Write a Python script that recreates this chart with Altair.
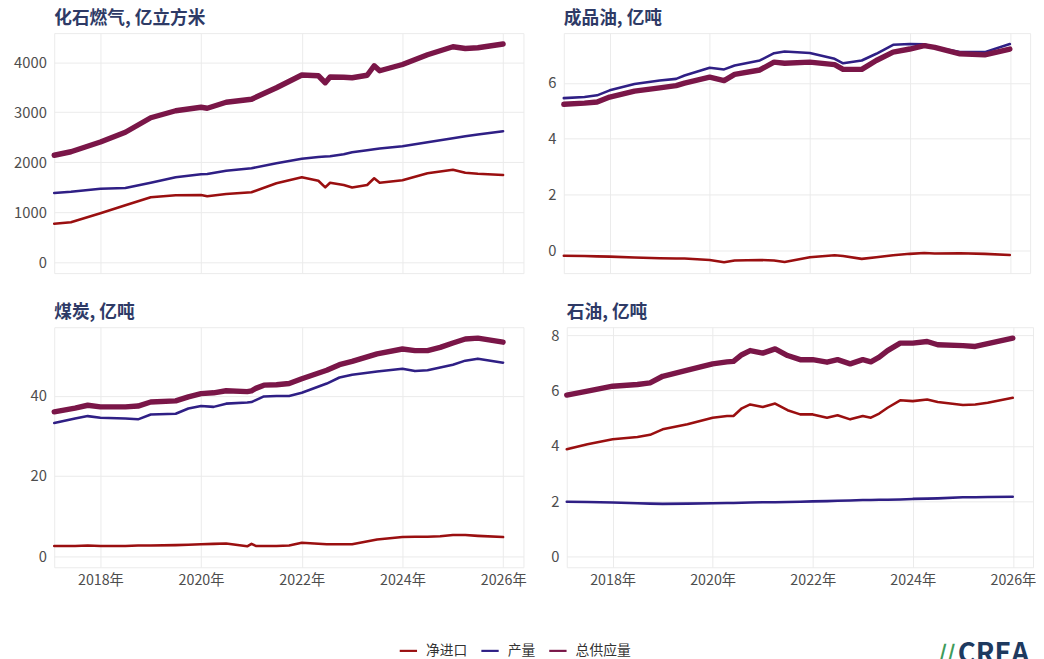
import altair as alt
import pandas as pd

SERIES = ["净进口", "产量", "总供应量"]
COLORS = ["#9a0f10", "#2f1f85", "#7a1648"]
WIDTHS = [2.6, 2.6, 5.5]
YEARS = [2018, 2020, 2022, 2024, 2026]

# 化石燃气, 亿立方米
gas_dates = ["2017-01-31", "2017-06-01", "2018-01-01", "2018-07-01", "2019-01-01", "2019-07-01",
             "2020-01-01", "2020-02-15", "2020-07-01", "2021-01-01", "2021-07-01", "2022-01-01",
             "2022-05-01", "2022-06-20", "2022-07-25", "2022-11-01", "2023-01-01", "2023-04-20",
             "2023-06-10", "2023-07-20", "2024-01-01", "2024-07-01", "2025-01-01", "2025-04-01",
             "2025-07-01", "2025-12-31"]
gas_import = [771, 800, 980, 1140, 1300, 1340, 1345, 1320, 1365, 1400, 1580, 1700, 1630, 1496, 1590,
              1545, 1495, 1545, 1680, 1590, 1640, 1780, 1850, 1790, 1770, 1745]
gas_prod = [1385, 1410, 1470, 1483, 1590, 1700, 1760, 1765, 1830, 1880, 1980, 2070, 2105, 2115, 2120,
            2160, 2200, 2240, 2260, 2275, 2320, 2400, 2480, 2520, 2555, 2620]
gas_supply = [2140, 2210, 2405, 2600, 2890, 3030, 3100, 3080, 3200, 3260, 3490, 3745, 3730, 3590, 3705,
              3700, 3690, 3740, 3930, 3830, 3955, 4150, 4310, 4275, 4290, 4365]

# 成品油, 亿吨
prod_oil_dates = ["2017-01-31", "2017-07-01", "2017-10-01", "2018-01-01", "2018-07-01", "2019-01-01",
                  "2019-05-01", "2019-07-01", "2020-01-01", "2020-04-15", "2020-07-01", "2021-01-01",
                  "2021-04-15", "2021-07-01", "2022-01-01", "2022-07-01", "2022-09-01", "2023-01-15",
                  "2023-05-01", "2023-09-01", "2024-01-01", "2024-04-15", "2024-07-01", "2025-01-01",
                  "2025-07-01", "2025-12-31"]
prod_oil_import = [-0.20, -0.21, -0.22, -0.23, -0.26, -0.29, -0.30, -0.30, -0.35, -0.43, -0.37, -0.35,
                   -0.37, -0.42, -0.25, -0.18, -0.21, -0.31, -0.25, -0.18, -0.13, -0.10, -0.12, -0.11,
                   -0.13, -0.17]
prod_oil_prod = [5.45, 5.49, 5.55, 5.73, 5.96, 6.08, 6.14, 6.26, 6.54, 6.48, 6.62, 6.80, 7.06, 7.12,
                 7.07, 6.86, 6.70, 6.80, 7.04, 7.36, 7.39, 7.38, 7.27, 7.10, 7.10, 7.39]
prod_oil_supply = [5.23, 5.27, 5.31, 5.49, 5.70, 5.82, 5.90, 5.99, 6.20, 6.08, 6.30, 6.46, 6.74, 6.70,
                   6.74, 6.65, 6.48, 6.48, 6.80, 7.10, 7.21, 7.33, 7.27, 7.04, 7.00, 7.21]

# 煤炭, 亿吨
coal_dates = ["2017-01-31", "2017-07-01", "2017-10-01", "2018-01-01", "2018-07-01", "2018-10-01",
              "2019-01-01", "2019-07-01", "2019-10-01", "2020-01-01", "2020-04-01", "2020-07-01",
              "2020-12-01", "2021-01-01", "2021-02-01", "2021-04-01", "2021-07-01", "2021-10-01",
              "2022-01-01", "2022-07-01", "2022-10-01", "2023-01-01", "2023-07-01", "2024-01-01",
              "2024-04-01", "2024-07-01", "2024-10-01", "2025-01-01", "2025-04-01", "2025-07-01",
              "2025-12-31"]
coal_import = [2.6, 2.6, 2.7, 2.6, 2.6, 2.7, 2.7, 2.8, 2.9, 3.0, 3.1, 3.2, 2.5, 3.1, 2.6, 2.6, 2.6,
               2.7, 3.4, 3.0, 3.0, 3.0, 4.2, 4.8, 4.9, 4.9, 5.0, 5.3, 5.3, 5.1, 4.8]
coal_prod = [33.2, 34.3, 34.9, 34.5, 34.3, 34.1, 35.3, 35.5, 36.8, 37.4, 37.2, 38.0, 38.3, 38.4, 38.9,
             39.8, 39.9, 39.9, 40.7, 43.0, 44.5, 45.2, 46.0, 46.7, 46.1, 46.3, 47.0, 47.7, 48.7, 49.2,
             48.2]
coal_supply = [35.96, 36.9, 37.6, 37.2, 37.2, 37.4, 38.4, 38.7, 39.7, 40.5, 40.7, 41.2, 41.0, 41.2,
               41.8, 42.6, 42.7, 43.0, 44.2, 46.3, 47.7, 48.5, 50.4, 51.6, 51.2, 51.2, 52.0, 53.1,
               54.1, 54.3, 53.3]

# 石油, 亿吨
crude_dates = ["2017-01-31", "2017-07-01", "2018-01-01", "2018-07-01", "2018-10-01", "2019-01-01",
               "2019-07-01", "2020-01-01", "2020-04-15", "2020-06-01", "2020-08-01", "2020-10-01",
               "2021-01-01", "2021-04-01", "2021-07-01", "2021-10-01", "2022-01-01", "2022-04-15",
               "2022-07-01", "2022-10-01", "2023-01-01", "2023-03-01", "2023-05-01", "2023-07-01",
               "2023-10-01", "2024-01-01", "2024-04-15", "2024-07-01", "2025-01-01", "2025-04-01",
               "2025-07-01", "2025-12-31"]
crude_import = [3.88, 4.06, 4.24, 4.32, 4.40, 4.60, 4.78, 5.02, 5.08, 5.08, 5.36, 5.50, 5.41, 5.53,
                5.29, 5.14, 5.14, 5.02, 5.11, 4.96, 5.08, 5.02, 5.17, 5.38, 5.65, 5.62, 5.68, 5.59,
                5.48, 5.50, 5.56, 5.74]
crude_prod = [1.98, 1.97, 1.95, 1.92, 1.91, 1.90, 1.91, 1.92, 1.93, 1.93, 1.94, 1.95, 1.96, 1.96,
              1.97, 1.98, 1.99, 2.00, 2.01, 2.02, 2.04, 2.04, 2.05, 2.05, 2.06, 2.08, 2.09, 2.10,
              2.14, 2.14, 2.15, 2.16]
crude_supply = [5.84, 5.98, 6.16, 6.22, 6.28, 6.52, 6.74, 6.97, 7.04, 7.06, 7.30, 7.45, 7.36, 7.51,
                7.27, 7.12, 7.12, 7.03, 7.12, 6.97, 7.12, 7.04, 7.21, 7.45, 7.72, 7.72, 7.78, 7.66,
                7.63, 7.60, 7.70, 7.90]

FONT = "Noto Sans CJK SC"
GRID = "#ebebeb"
LABEL = "#4d4d4d"
TITLE = "#2e3a66"


def panel(title, dates, imp, prod, sup, yticks, width, ext, show_x, logo=False):
    rows = []
    for name, vals in zip(SERIES, [imp, prod, sup]):
        for d, v in zip(dates, vals):
            rows.append({"date": d, "series": name, "value": v})
    df = pd.DataFrame(rows)
    allv = imp + prod + sup
    lo = min(0, min(allv))
    hi = max(allv)
    span = hi - lo
    ydom = [lo - 0.05 * span, hi + 0.05 * span]

    x_axis = alt.Axis(
        values=[alt.DateTime(year=y, month=1, date=1) for y in YEARS],
        format="%Y年", labels=show_x, ticks=False, domain=False, grid=True,
        gridColor=GRID, gridWidth=1, labelFontSize=14.5, labelColor=LABEL,
        labelPadding=7, labelFont=FONT, title=None,
        **({} if show_x else {"minExtent": 0, "maxExtent": 0}),
    )
    y_axis = alt.Axis(
        values=yticks, format="d", ticks=False, domain=False, grid=True,
        gridColor=GRID, gridWidth=1, labelFontSize=15, labelColor=LABEL,
        labelPadding=8, labelFont=FONT, title=None, minExtent=ext, maxExtent=ext,
    )
    enc = dict(
        x=alt.X("date:T", axis=x_axis,
                scale=alt.Scale(domain=[alt.DateTime(year=2017, month=1, date=31),
                                        alt.DateTime(year=2026, month=5, date=28)])),
        y=alt.Y("value:Q", axis=y_axis, scale=alt.Scale(domain=ydom, nice=False, zero=False)),
        color=alt.Color("series:N", sort=SERIES,
                        scale=alt.Scale(domain=SERIES, range=COLORS),
                        legend=alt.Legend(orient="none", legendX=350, legendY=618,
                                          direction="horizontal", title=None,
                                          symbolType="stroke", symbolSize=310,
                                          symbolStrokeWidth=2.2, labelFontSize=14,
                                          labelColor="#333333", labelFont=FONT,
                                          labelOffset=8, columnPadding=9, padding=0)),
    )
    layers = []
    for name, w in zip(SERIES, WIDTHS):
        layers.append(
            alt.Chart(df).transform_filter(alt.datum.series == name)
            .mark_line(strokeWidth=w, strokeJoin="round", strokeCap="round")
            .encode(**enc)
        )
    if logo:
        icon_df = pd.DataFrame({"t": ["//"]})
        layers.append(alt.Chart(icon_df).mark_text(
            align="right", baseline="top", fontSize=22, fontWeight="bold",
            color="#3e9b5a", font=FONT).encode(
            text="t:N", x=alt.value(395), y=alt.value(322)))
        logo_df = pd.DataFrame({"t": ["CREA"]})
        layers.append(alt.Chart(logo_df).mark_text(
            align="right", baseline="top", fontSize=28, fontWeight="bold",
            color="#1e3a5f", font=FONT).encode(
            text="t:N", x=alt.value(470), y=alt.value(319)))
    return alt.layer(*layers).properties(
        width=width, height=244,
        title=alt.TitleParams(title, anchor="start", frame="group", fontSize=18,
                              fontWeight="bold", color=TITLE, font=FONT, offset=5),
    )


p1 = panel("化石燃气, 亿立方米", gas_dates, gas_import, gas_prod, gas_supply,
           [0, 1000, 2000, 3000, 4000], 477, 36.5, False)
p2 = panel("成品油, 亿吨", prod_oil_dates, prod_oil_import, prod_oil_prod, prod_oil_supply,
           [0, 2, 4, 6], 474, 29.5, False)
p3 = panel("煤炭, 亿吨", coal_dates, coal_import, coal_prod, coal_supply,
           [0, 20, 40], 477, 36.5, True)
p4 = panel("石油, 亿吨", crude_dates, crude_import, crude_prod, crude_supply,
           [0, 2, 4, 6, 8], 474, 29.5, True, logo=True)

chart = alt.vconcat(
    alt.hconcat(p1, p2, spacing=10),
    alt.hconcat(p3, p4, spacing=10),
    spacing=30,
).properties(
    padding={"left": 5, "top": -4, "right": -1, "bottom": 0},
    background="white",
).configure(font=FONT).configure_view(stroke=GRID, strokeWidth=1)

chart.save("out.html", embed_options={"renderer": "svg", "actions": False})
